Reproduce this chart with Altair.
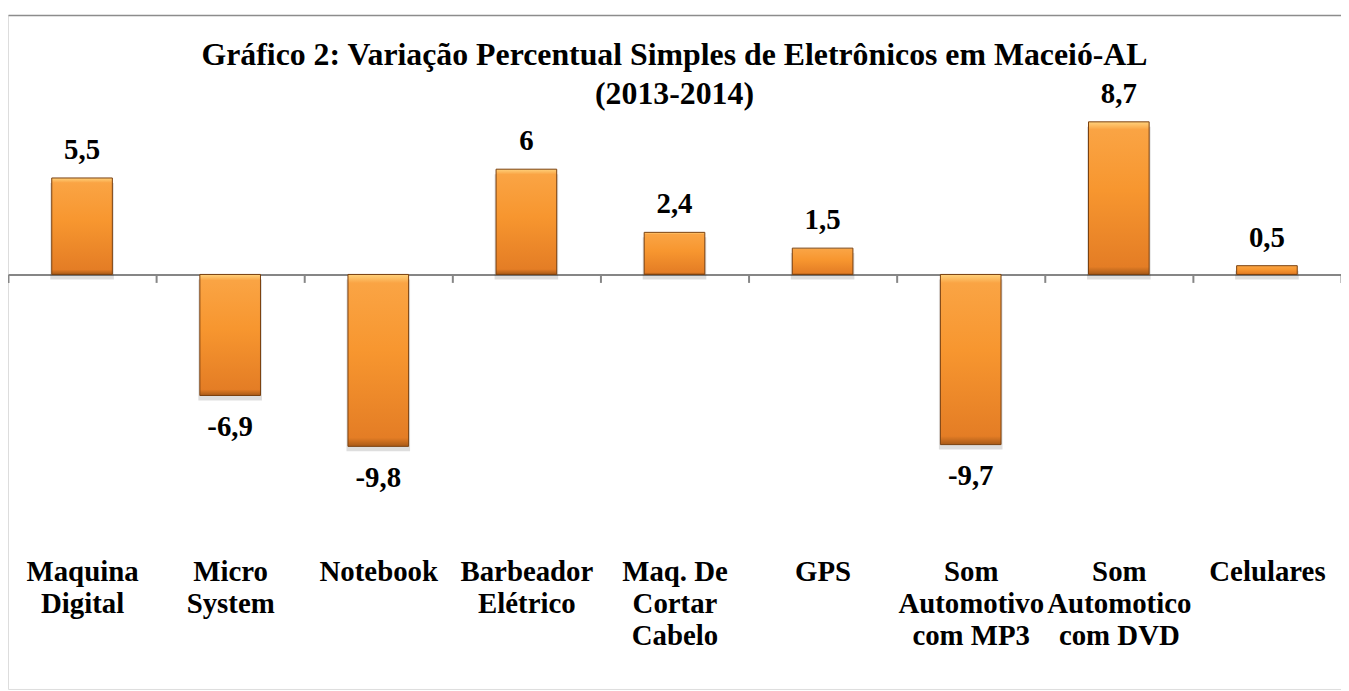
import altair as alt
import pandas as pd

categories = [
    "Maquina\nDigital",
    "Micro\nSystem",
    "Notebook",
    "Barbeador\nElétrico",
    "Maq. De\nCortar\nCabelo",
    "GPS",
    "Som\nAutomotivo\ncom MP3",
    "Som\nAutomotico\ncom DVD",
    "Celulares",
]
values = [5.5, -6.9, -9.8, 6, 2.4, 1.5, -9.7, 8.7, 0.5]
value_labels = ["5,5", "-6,9", "-9,8", "6", "2,4", "1,5", "-9,7", "8,7", "0,5"]

title_lines = [
    "Gráfico 2: Variação Percentual Simples de Eletrônicos em Maceió-AL",
    "(2013-2014)",
]

df = pd.DataFrame({"cat": categories, "val": values, "lab": value_labels})

FONT = "Liberation Serif"
BORDER = "#8C8C8C"

xscale = alt.Scale(paddingInner=0, paddingOuter=0)

xenc_bottom = alt.X(
    "cat:N",
    sort=None,
    scale=xscale,
    axis=alt.Axis(
        title=None,
        orient="bottom",
        offset=-417,
        domainColor="#868686",
        domainWidth=2,
        tickColor="#868686",
        tickWidth=2,
        tickSize=8,
        tickBand="extent",
        labelAngle=0,
        labelFont=FONT,
        labelFontSize=29,
        labelFontWeight="bold",
        labelColor="#000000",
        labelBaseline="top",
        labelPadding=277,
        labelLineHeight=32,
        labelLimit=400,
        labelOverlap=False,
        labelBound=False,
        labelFlush=False,
        labelExpr="split(datum.label, '\\n')",
    ),
)

# top border drawn as the domain of a second (label-less) x axis
xenc_top = alt.X(
    "cat:N",
    sort=None,
    scale=xscale,
    axis=alt.Axis(
        title=None,
        orient="top",
        labels=False,
        ticks=False,
        domainColor=BORDER,
        domainWidth=1.5,
    ),
)

yscale = alt.Scale(domain=[-23.63, 14.79], nice=False, zero=False)

# left border drawn as the domain of the y axis
yenc_left = alt.Y(
    "val:Q",
    scale=yscale,
    axis=alt.Axis(
        title=None,
        labels=False,
        ticks=False,
        grid=False,
        domainColor=BORDER,
        domainWidth=1.5,
    ),
)
yenc = alt.Y("val:Q", scale=yscale, axis=None)

base = alt.Chart(df)

shadow = base.mark_bar(
    size=64, color="#000000", opacity=0.13, yOffset=5, y2Offset=5
).encode(
    x=xenc_top,
    y=yenc_left,
    y2=alt.datum(0),
)

gradient = alt.Gradient(
    gradient="linear",
    x1=0, y1=0, x2=0, y2=1,
    stops=[
        alt.GradientStop(color="#FFD27C", offset=0),
        alt.GradientStop(color="#FAA444", offset=0.05),
        alt.GradientStop(color="#F7962F", offset=0.45),
        alt.GradientStop(color="#E47D25", offset=0.95),
        alt.GradientStop(color="#A85A18", offset=1),
    ],
)

bars = base.mark_bar(
    size=61, fill=gradient, stroke="#7A3F0E", strokeWidth=1
).encode(
    x=xenc_bottom,
    y=yenc,
    y2=alt.datum(0),
)

pos_text = base.transform_filter("datum.val >= 0").mark_text(
    font=FONT, fontSize=29, fontWeight="bold", color="#000000",
    baseline="alphabetic", dy=-19,
).encode(x=alt.X("cat:N", sort=None, scale=xscale, axis=None), y=yenc, text="lab:N")

neg_text = base.transform_filter("datum.val < 0").mark_text(
    font=FONT, fontSize=29, fontWeight="bold", color="#000000",
    baseline="top", dy=18,
).encode(x=alt.X("cat:N", sort=None, scale=xscale, axis=None), y=yenc, text="lab:N")

chart = (
    alt.layer(shadow, bars, pos_text, neg_text)
    .resolve_axis(x="independent")
    .properties(
        width=1341,
        height=678,
        autosize=alt.AutoSizeParams(type="none"),
        padding={"left": 0, "top": 5, "right": 0, "bottom": 0},
        title=alt.TitleParams(
            text=title_lines,
            font=FONT,
            fontSize=32,
            fontWeight="bold",
            color="#000000",
            anchor="middle",
            baseline="alphabetic",
            lineHeight=40,
            offset=-122,
        ),
    )
    .configure_view(stroke=None)
    .configure(background="#ffffff")
)

chart.save("out.html", embed_options={"renderer": "svg", "actions": False})
